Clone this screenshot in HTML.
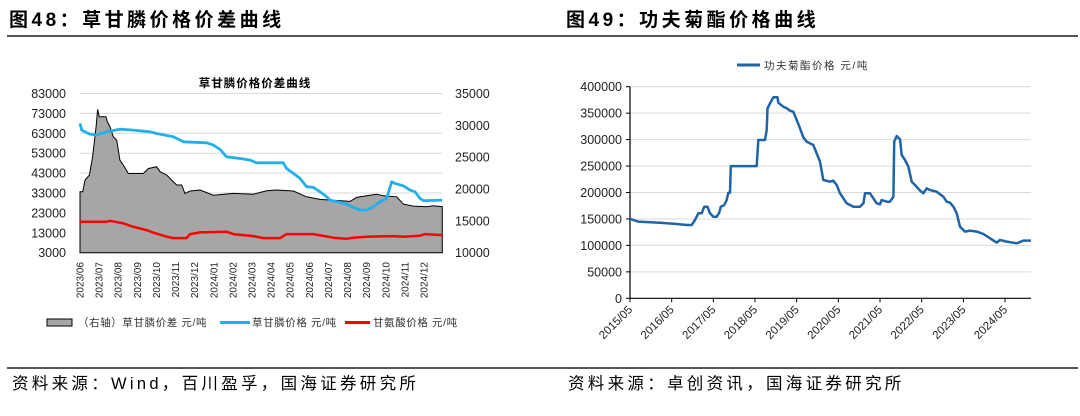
<!DOCTYPE html>
<html><head><meta charset="utf-8">
<style>
body{margin:0;background:#fff;width:1080px;height:411px;overflow:hidden;font-family:"Liberation Sans","Noto Sans CJK SC",sans-serif;}
svg text{font-family:"Liberation Sans","Noto Sans CJK SC",sans-serif;}
</style></head>
<body>
<svg id="s" width="1080" height="411" xmlns="http://www.w3.org/2000/svg">
<text x="9" y="26" font-size="19" font-weight="bold" letter-spacing="3.5">图48：草甘膦价格价差曲线</text>
<text x="566" y="26" font-size="19" font-weight="bold" letter-spacing="3.5">图49：功夫菊酯价格曲线</text>
<line x1="7" y1="36" x2="1078" y2="36" stroke="#555" stroke-width="2"/>
<line x1="7" y1="368" x2="1078" y2="368" stroke="#555" stroke-width="2"/>
<text x="12" y="389" font-size="16.5" letter-spacing="3.3">资料来源：Wind，百川盈孚，国海证券研究所</text>
<text x="568" y="389" font-size="16.5" letter-spacing="3.3">资料来源：卓创资讯，国海证券研究所</text>
<g id="c1"></g>
<g id="c2"></g>
</svg>
<script>
// ---- Chart 1 data (months since 2023/06) ----
const c1Months=['2023/06','2023/07','2023/08','2023/09','2023/10','2023/11','2023/12','2024/01','2024/02','2024/03','2024/04','2024/05','2024/06','2024/07','2024/08','2024/09','2024/10','2024/11','2024/12'];
const leftTicks=[3000,13000,23000,33000,43000,53000,63000,73000,83000];
const rightTicks=[10000,15000,20000,25000,30000,35000];
const spreadT=[0,0.14,0.26,0.49,0.66,0.84,0.92,1.01,1.36,1.43,1.57,1.74,1.92,2.09,2.27,2.53,3.31,3.58,4.01,4.19,4.54,4.80,5.06,5.32,5.49,5.76,6.28,6.98,8.02,9.07,9.77,10.29,11.16,11.86,12.56,13.26,14.13,14.48,15.0,15.52,15.87,16.57,16.92,17.44,18.14,18.49,18.96];
const spreadV=[33600,33600,39500,42000,51200,66300,75000,71300,71300,68800,66300,61200,59600,49500,47000,42800,42800,45300,46200,43700,42000,39500,37000,37000,32800,34000,34500,31900,32800,32400,34100,34500,34000,31100,29800,29400,28800,30800,31600,32400,31600,31100,27400,26400,26100,26600,26100];
const glyT=[0,0.09,0.52,0.87,1.40,2.09,2.79,3.66,4.01,4.88,5.41,6.63,6.98,7.33,7.67,8.37,8.90,9.24,10.64,10.81,11.16,11.51,11.86,12.21,12.56,12.91,13.08,13.95,14.30,14.65,15.0,15.35,15.70,16.05,16.31,16.48,16.92,17.27,17.53,17.79,17.97,18.96];
const glyV=[30300,29250,28620,28460,28980,29400,29250,28980,28720,28200,27420,27260,26890,26210,25060,24800,24540,24120,24120,23230,22450,21660,20360,20250,19570,18790,18260,17640,17110,16700,16700,17220,18000,18530,21140,20880,20510,19830,19570,18530,18160,18260];
const glyAT=[0,1.40,1.57,2.27,2.79,3.49,3.84,4.54,4.88,5.58,5.76,6.28,7.67,8.02,9.07,9.59,10.47,10.81,12.21,13.26,13.95,14.30,15.0,16.40,16.92,17.79,18.05,18.96];
const glyAV=[18550,18550,19050,17720,16040,14370,13030,11020,10350,10350,12360,13190,13530,12360,11350,10350,10350,12360,12360,10520,10010,10520,11020,11350,11020,11520,12360,11850];
// ---- Chart 2 data (years since 2015/05) ----
const c2Labels=['2015/05','2016/05','2017/05','2018/05','2019/05','2020/05','2021/05','2022/05','2023/05','2024/05'];
const c2Ticks=[0,50000,100000,150000,200000,250000,300000,350000,400000];
const lcT=[0,0.2,0.72,1.12,1.36,1.48,1.56,1.64,1.72,1.78,1.86,1.92,2.0,2.08,2.14,2.18,2.26,2.32,2.36,2.40,2.42,3.04,3.08,3.24,3.28,3.30,3.36,3.44,3.54,3.56,3.68,3.76,3.84,3.92,4.0,4.08,4.16,4.24,4.32,4.40,4.48,4.56,4.64,4.80,4.88,4.96,5.04,5.2,5.36,5.52,5.6,5.64,5.76,5.84,5.92,6.0,6.04,6.16,6.24,6.32,6.34,6.4,6.48,6.52,6.6,6.68,6.76,6.84,6.96,7.04,7.12,7.2,7.36,7.52,7.6,7.68,7.76,7.84,7.92,8.04,8.16,8.32,8.48,8.64,8.8,8.88,9.04,9.28,9.44,9.62];
const lcV=[150000,144900,143000,140500,138600,138600,148000,160600,160600,173000,173000,160600,154300,154300,161900,173000,176400,185800,199700,199700,250000,250000,299200,299200,318000,359000,368500,379900,379900,369800,362200,359100,354700,352800,337000,321300,304300,296100,293000,289800,274000,258300,223600,220500,222400,214200,198400,179500,173200,173200,179500,198400,198400,188900,179500,177700,185800,182700,182700,192100,296100,306800,300500,270900,261400,248800,220500,214200,203500,198400,207900,204700,201600,192100,182700,180800,173200,160600,135400,126000,127900,126000,121600,113400,105200,110200,107100,104000,109000,109000];

const NS='http://www.w3.org/2000/svg';
function mk(parent,tag,attrs,text){const e=document.createElementNS(NS,tag);for(const k in attrs)e.setAttribute(k,attrs[k]);if(text!==undefined)e.textContent=text;parent.appendChild(e);return e;}

// Chart 1
const g1=document.getElementById('c1');
const X0=80,X1=442,YB=252.7,YT=93.5,MS=19.11;
const xm=m=>X0+m*MS;
const yl=v=>YB-(v-3000)/80000*(YB-YT);
const yr=v=>YB-(v-10000)/25000*(YB-YT);
let t=mk(g1,'text',{x:255,y:87,'font-size':11.5,'font-weight':'bold','text-anchor':'middle','letter-spacing':1},'草甘膦价格价差曲线');


leftTicks.forEach(v=>{
  const l=mk(g1,'line',{x1:X0,x2:X1,y1:yl(v),y2:yl(v),stroke:'#d9d9d9','stroke-width':1});
  
  
  const tx=mk(g1,'text',{x:66,y:yl(v)+4.5,'font-size':12.5,'text-anchor':'end',fill:'#222'},v);
  
  
});
rightTicks.forEach(v=>{
  const tx=mk(g1,'text',{x:455,y:yr(v)+4.5,'font-size':12.5,fill:'#222'},v);
  
  
});
let d='M'+xm(spreadT[0])+','+yl(3000);
spreadT.forEach((m,i)=>{d+=' L'+xm(m).toFixed(1)+','+yl(spreadV[i]).toFixed(1);});
d+=' L'+xm(spreadT[spreadT.length-1]).toFixed(1)+','+yl(3000)+' Z';
const area=mk(g1,'path',{d:d,fill:'#a6a6a6',stroke:'#000','stroke-width':1});


function poly(g,T,V,fx,fy,col,w,name){
  const p=mk(g,'polyline',{points:T.map((m,i)=>fx(m).toFixed(1)+','+fy(V[i]).toFixed(1)).join(' '),fill:'none',stroke:col,'stroke-width':w,'stroke-linejoin':'round'});
  
  
}
poly(g1,glyAT,glyAV,xm,yl,'#ff0000',2.5,'glycine-price-line');
poly(g1,glyT,glyV,xm,yr,'#22b0ea',2.8,'glyphosate-price-line');
c1Months.forEach((lab,i)=>{
  const x=xm(i)+3.5;
  const tx=mk(g1,'text',{x:x,y:262,'font-size':10,'text-anchor':'end',transform:`rotate(-90 ${x} 262)`,fill:'#222'},lab);
  
  
});
// legend 1
let lg=mk(g1,'g',{});


mk(lg,'rect',{x:47,y:319,width:25,height:7,fill:'#a6a6a6',stroke:'#000','stroke-width':1});
mk(lg,'text',{x:78,y:326,'font-size':10.5,fill:'#333','letter-spacing':0.6},'（右轴）草甘膦价差 元/吨');
mk(lg,'line',{x1:220,x2:250,y1:322.5,y2:322.5,stroke:'#22b0ea','stroke-width':3});
mk(lg,'text',{x:252,y:326,'font-size':10.5,fill:'#333','letter-spacing':0.6},'草甘膦价格 元/吨');
mk(lg,'line',{x1:345,x2:370,y1:322.5,y2:322.5,stroke:'#ff0000','stroke-width':3});
mk(lg,'text',{x:373,y:326,'font-size':10.5,fill:'#333','letter-spacing':0.6},'甘氨酸价格 元/吨');

// Chart 2
const g2=document.getElementById('c2');
const A0=630,A1=1031,BY=298.3,TY=86.7,YS=41.67;
const xy=yv=>A0+yv*YS;
const yv2=v=>BY-v/400000*(BY-TY);
c2Ticks.forEach(v=>{
  if(v>0){const l=mk(g2,'line',{x1:A0,x2:A1,y1:yv2(v),y2:yv2(v),stroke:'#d9d9d9','stroke-width':1});
  
  }
  const tx=mk(g2,'text',{x:622,y:yv2(v)+4.5,'font-size':12.5,'text-anchor':'end',fill:'#222'},v);
  
  
  const tk=mk(g2,'line',{x1:A0-4,x2:A0,y1:yv2(v),y2:yv2(v),stroke:'#000'});
  
  
});
const ax=mk(g2,'path',{d:`M${A0},${TY} L${A0},${BY} L${A1},${BY}`,fill:'none',stroke:'#000','stroke-width':1.2});


c2Labels.forEach((lab,i)=>{
  const x=xy(i);
  const tk=mk(g2,'line',{x1:x,x2:x,y1:BY,y2:BY+4,stroke:'#000'});
  
  
  const tx=mk(g2,'text',{x:x+3,y:BY+12,'font-size':11.5,'text-anchor':'end',transform:`rotate(-45 ${x+3} ${BY+12})`,fill:'#222'},lab);
  
  
});
poly(g2,lcT,lcV,xy,yv2,'#1f64a6',2.5,'cyhalothrin-price-line');
let lg2=mk(g2,'g',{});


mk(lg2,'line',{x1:737,x2:760,y1:65,y2:65,stroke:'#1f64a6','stroke-width':3});
mk(lg2,'text',{x:764,y:69,'font-size':10.5,fill:'#333','letter-spacing':1.5},'功夫菊酯价格 元/吨');
</script>
</body></html>
